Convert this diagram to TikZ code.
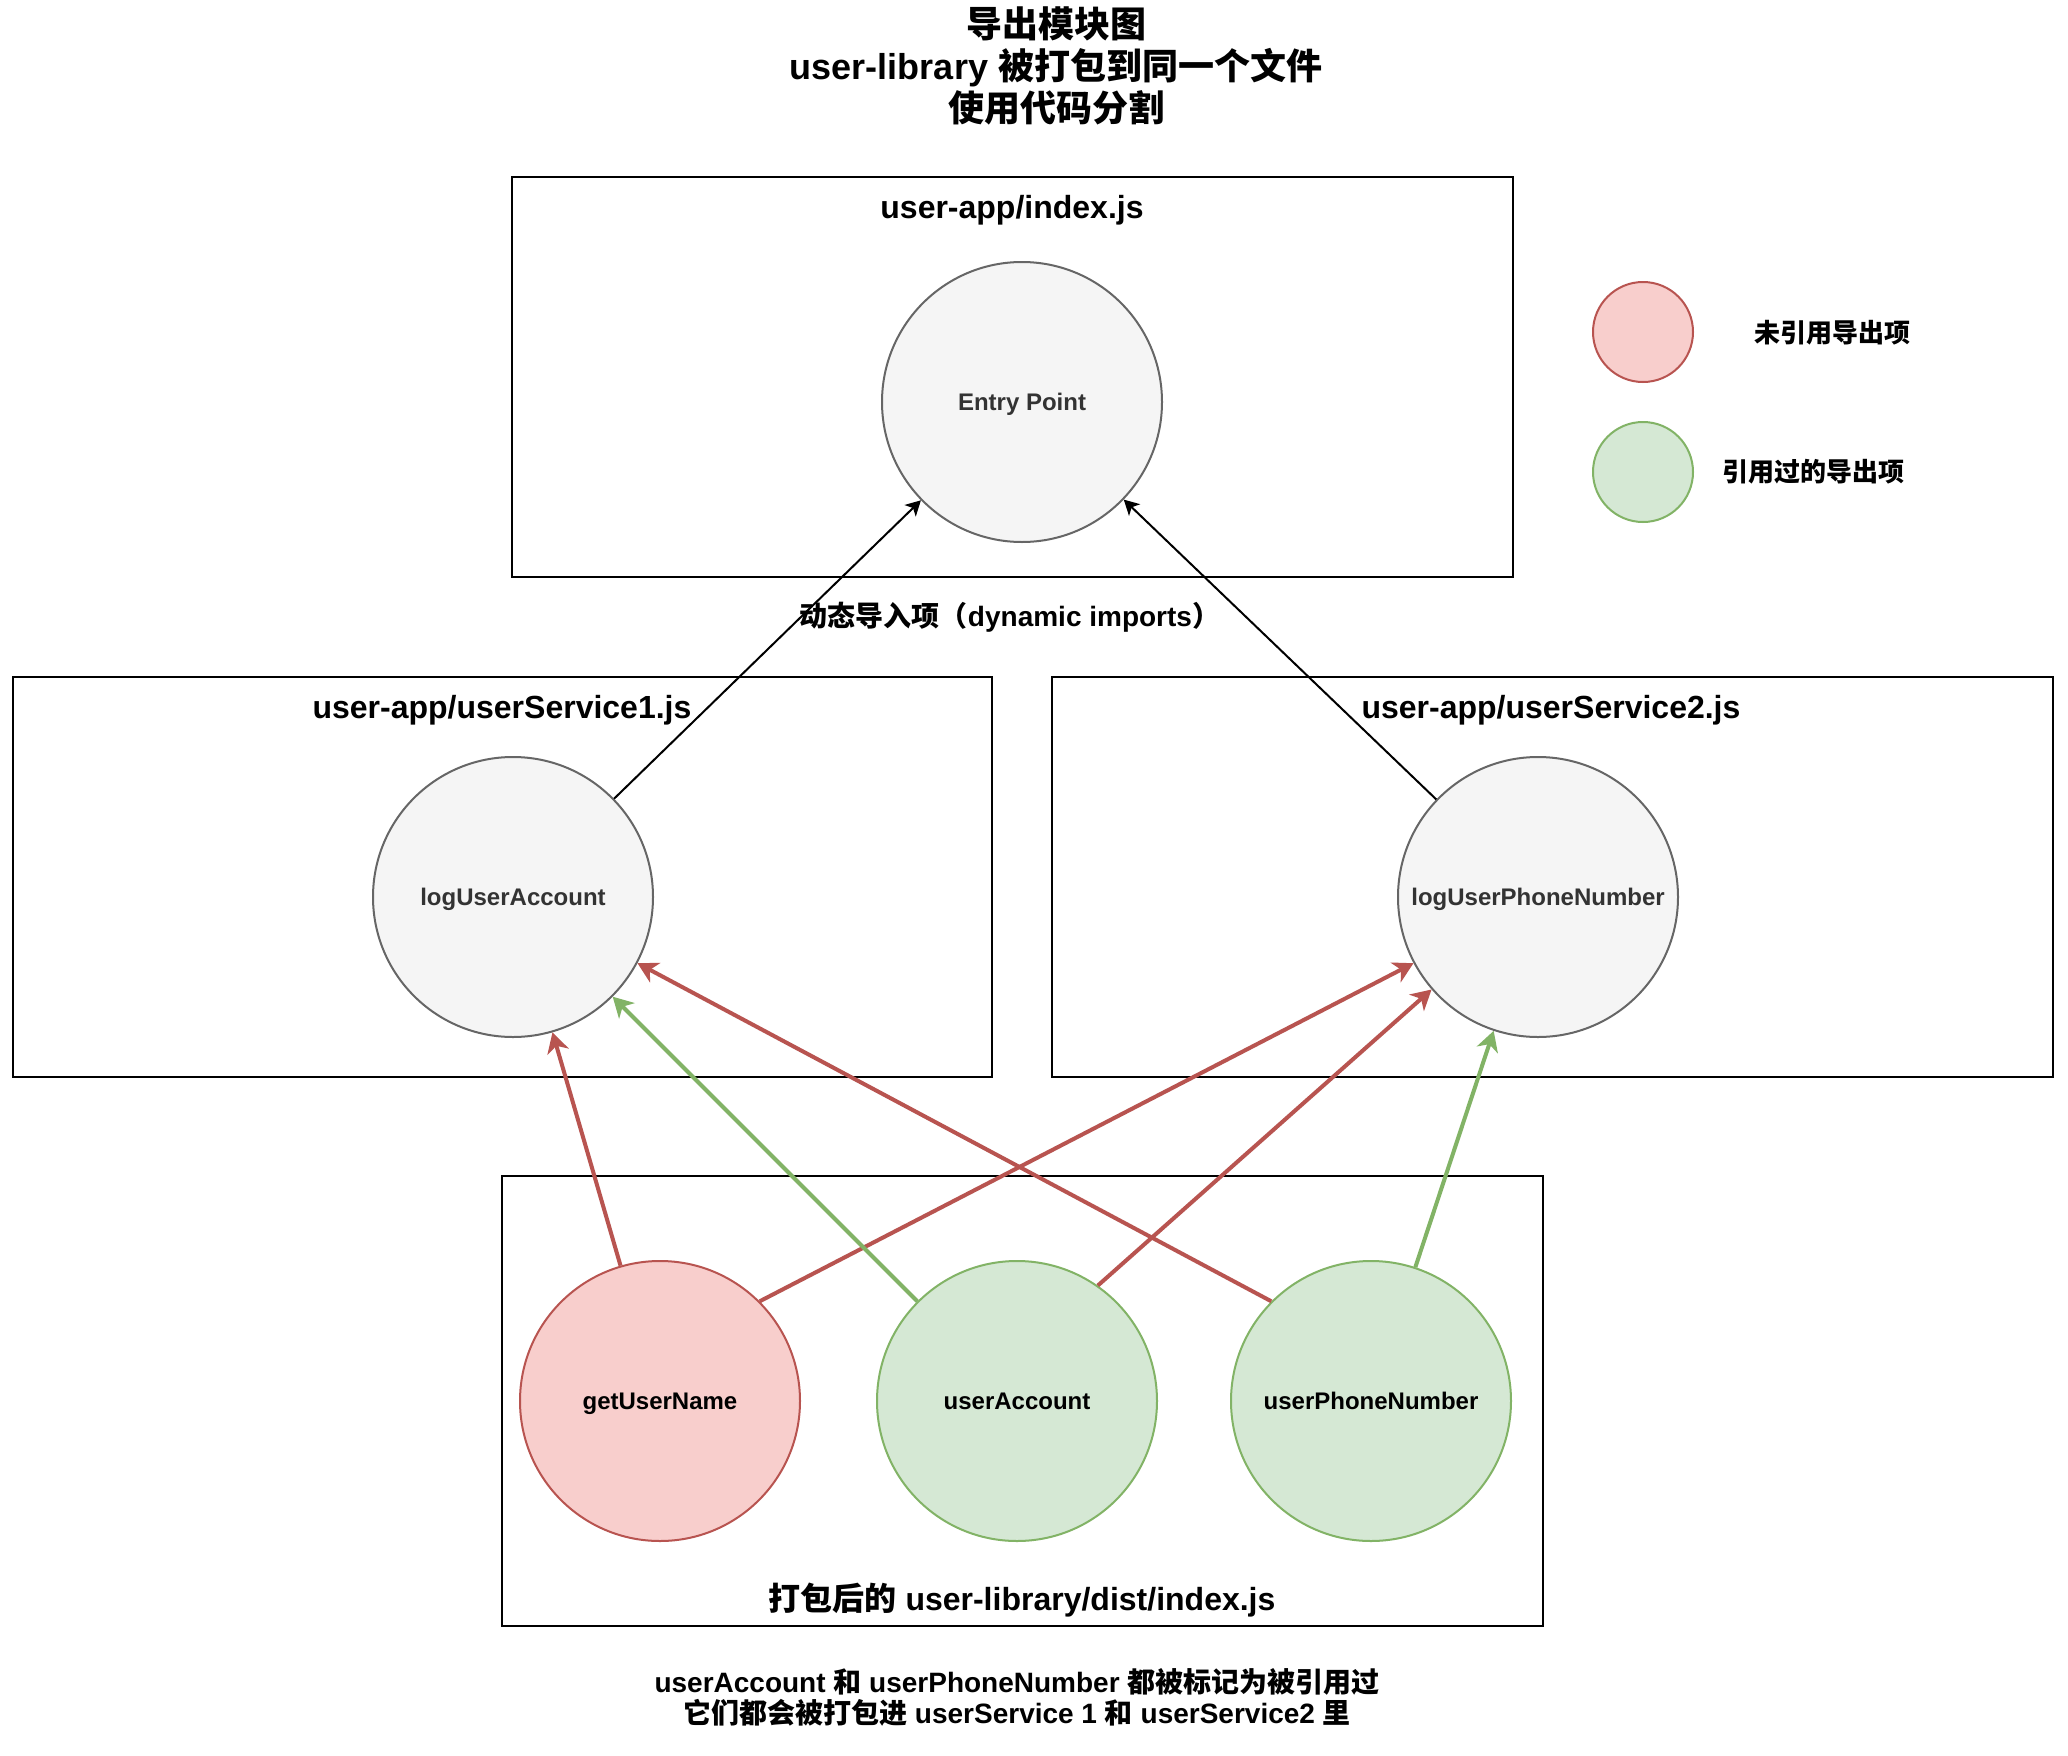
\documentclass[tikz,border=0pt]{standalone}
\usepackage{fontspec}
\setmainfont{Liberation Sans}
\newfontfamily\cjk{Noto Sans CJK SC}
\newcommand\zh[1]{{\cjk#1}}
\usetikzlibrary{arrows.meta}

\definecolor{grayfill}{HTML}{F5F5F5}
\definecolor{graydraw}{HTML}{666666}
\definecolor{graytext}{HTML}{333333}
\definecolor{redfill}{HTML}{F8CECC}
\definecolor{reddraw}{HTML}{B85450}
\definecolor{greenfill}{HTML}{D5E8D4}
\definecolor{greendraw}{HTML}{82B366}

\tikzset{
  fnode/.style={circle, minimum size=140pt, inner sep=0pt, line width=1pt,
    text height=8.6pt, text depth=0pt,
    font=\bfseries\fontsize{12}{14}\selectfont},
  grayfn/.style={fnode, fill=grayfill, draw=graydraw, text=graytext},
  redfn/.style={fnode, fill=redfill, draw=reddraw, text=black},
  greenfn/.style={fnode, fill=greenfill, draw=greendraw, text=black},
  legendfn/.style={circle, minimum size=50pt, inner sep=0pt, line width=1pt},
  module/.style={draw=black, line width=1.2pt, rectangle, inner sep=0pt},
  boxtitle/.style={font=\bfseries\fontsize{16}{19}\selectfont},
  legendtext/.style={font=\bfseries\fontsize{13}{15}\selectfont},
  importarrow/.style={line width=1pt, -{Stealth[length=7.5pt,width=8pt,inset=2pt]}},
  redlink/.style={draw=reddraw, line width=2pt,
    -{Stealth[length=10pt,width=11pt,inset=3pt,fill=reddraw]}},
  greenlink/.style={draw=greendraw, line width=2pt,
    -{Stealth[length=10pt,width=11pt,inset=3pt,fill=greendraw]}},
}

\begin{document}
\begin{tikzpicture}[x=0.5pt, y=-0.5pt]
  \useasboundingbox[fill=white] (0,0) rectangle (2068,1756);

  % heading
  \node[font=\bfseries\fontsize{18}{21}\selectfont, align=center] (title) at (1056,66)
    {\zh{导出模块图}\\user-library \zh{被打包到同一个文件}\\\zh{使用代码分割}};

  % module containers
  \node[module, minimum width=500.5pt, minimum height=200pt] (appbox) at (1012.5,377) {};
  \node[module, minimum width=489.5pt, minimum height=200pt] (svc1box) at (502.5,877) {};
  \node[module, minimum width=500.5pt, minimum height=200pt] (svc2box) at (1552.5,877) {};
  \node[module, minimum width=520.5pt, minimum height=225pt] (libbox) at (1022.5,1401) {};

  \node[boxtitle] (apptitle) at (1012,210) {user-app/index.js};
  \node[boxtitle] (svc1title) at (502,710) {user-app/userService1.js};
  \node[boxtitle] (svc2title) at (1551,710) {user-app/userService2.js};
  \node[boxtitle] (libtitle) at (1022,1600) {\zh{打包后的} user-library/dist/index.js};

  % functions
  \node[grayfn] (ep) at (1022,402) {Entry Point};
  \node[grayfn] (lua) at (513,897) {logUserAccount};
  \node[grayfn] (lupn) at (1538,897) {logUserPhoneNumber};
  \node[redfn] (gun) at (660,1401) {getUserName};
  \node[greenfn] (ua) at (1017,1401) {userAccount};
  \node[greenfn] (upn) at (1371,1401) {userPhoneNumber};

  % dynamic imports
  \draw[importarrow] (lua) -- (ep);
  \draw[importarrow] (lupn) -- (ep);
  \node[font=\bfseries\fontsize{14}{16}\selectfont] (dynlabel) at (1010,617)
    {\zh{动态导入项（}dynamic imports\zh{）}};

  % references into the bundled library
  \draw[redlink] (gun) -- (lua);
  \draw[redlink] (gun.45) -- (lupn.208);
  \draw[greenlink] (ua.135) -- (lua.315);
  \draw[redlink] (ua.55) -- (lupn.221);
  \draw[redlink] (upn.135) -- (lua.332);
  \draw[greenlink] (upn) -- (lupn);

  % legend
  \node[legendfn, fill=redfill, draw=reddraw] (legunused) at (1643,332) {};
  \node[legendfn, fill=greenfill, draw=greendraw] (legused) at (1643,472) {};
  \node[legendtext] (legunusedtext) at (1832,333) {\zh{未引用导出项}};
  \node[legendtext] (legusedtext) at (1813,472) {\zh{引用过的导出项}};

  % footnote
  \node[font=\bfseries\fontsize{14}{15.5}\selectfont, align=center] (note) at (1017,1697)
    {userAccount \zh{和} userPhoneNumber \zh{都被标记为被引用过}\\
     \zh{它们都会被打包进} userService 1 \zh{和} userService2 \zh{里}};
\end{tikzpicture}
\end{document}
